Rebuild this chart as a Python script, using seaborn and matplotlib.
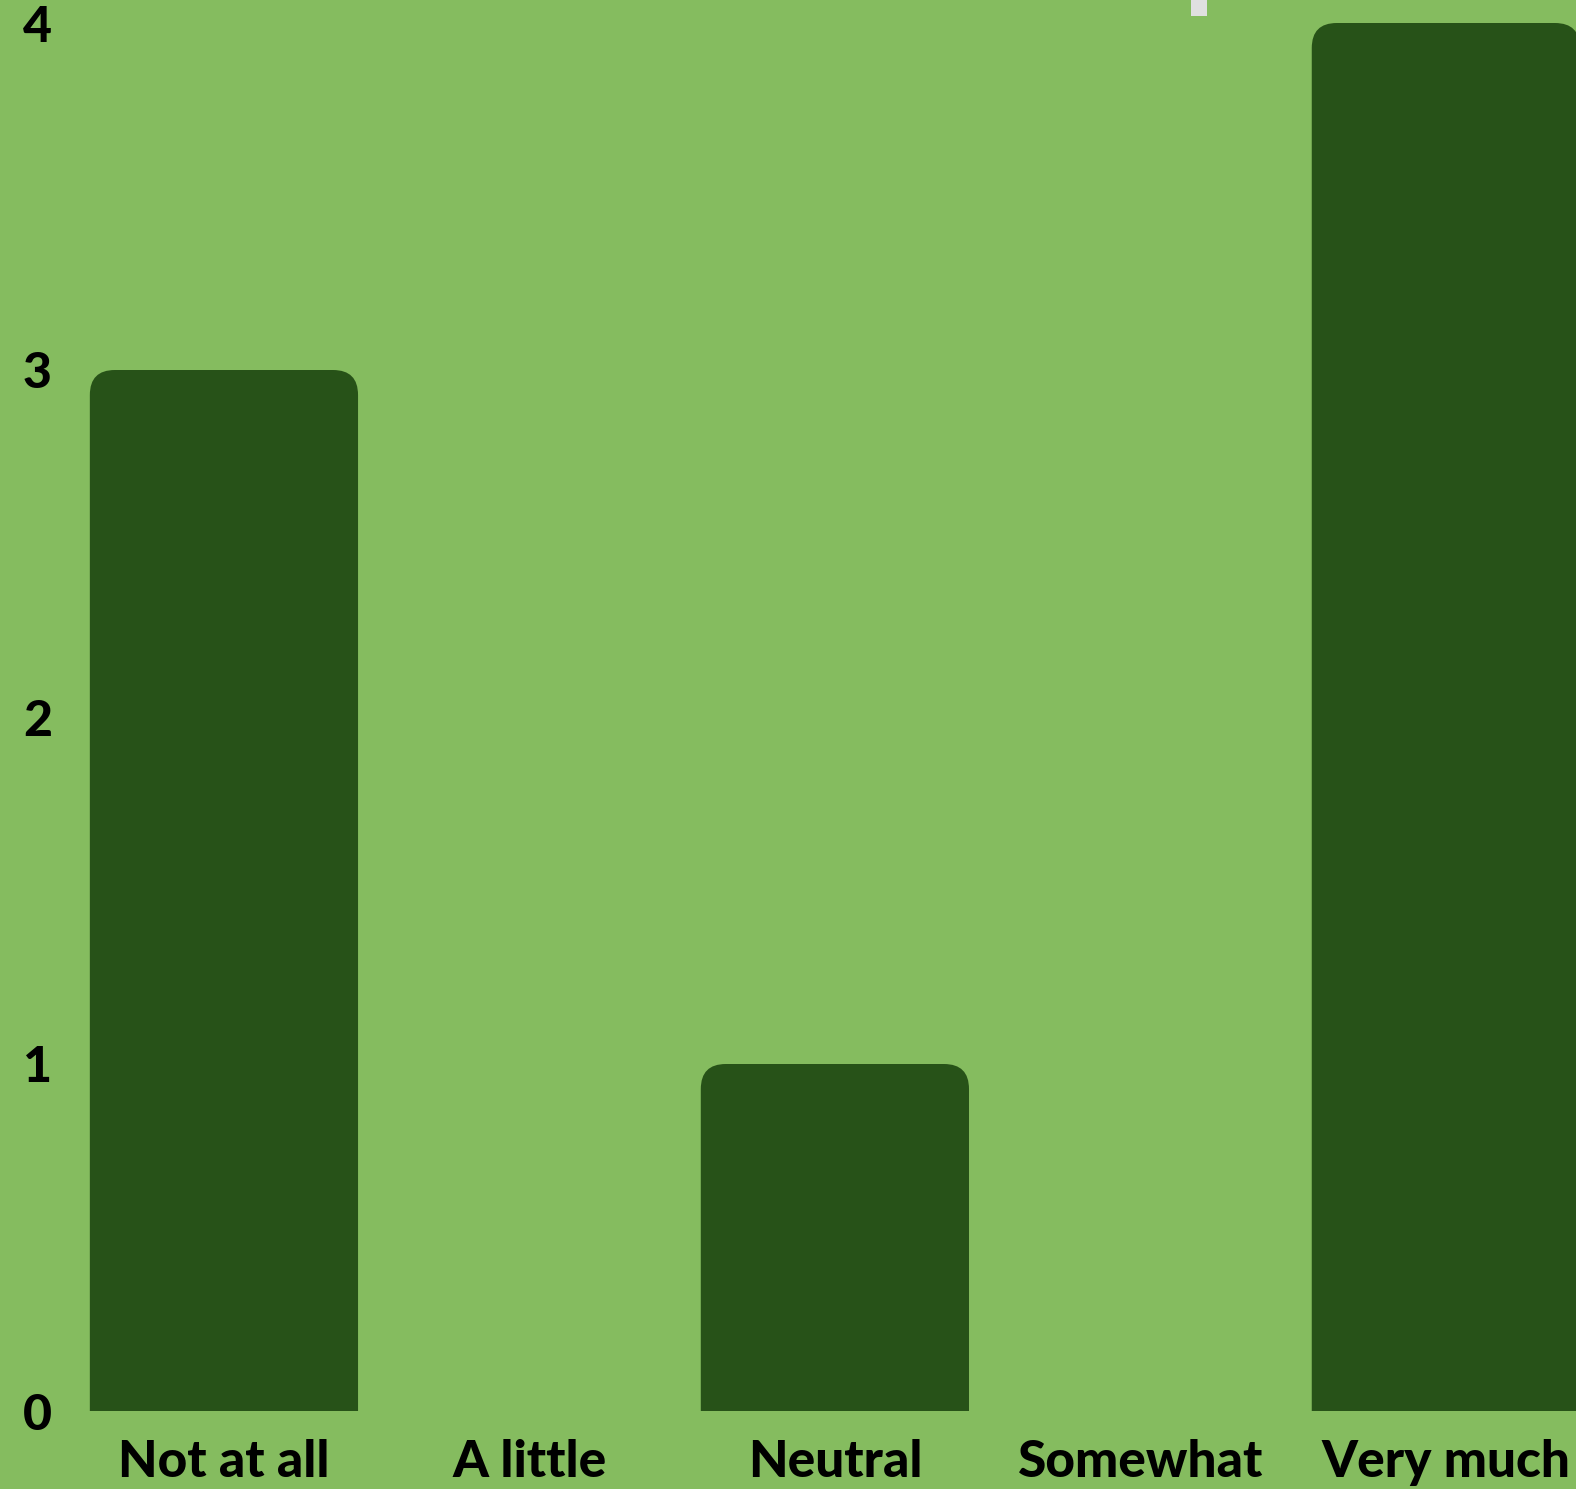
import matplotlib
matplotlib.use("Agg")
import matplotlib.pyplot as plt
import seaborn as sns
import pandas as pd
from matplotlib.patches import FancyBboxPatch, Rectangle

categories = ["Not at all", "A little", "Neutral", "Somewhat", "Very much"]
values = [3, 0, 1, 0, 4]
yticks = [0, 1, 2, 3, 4]

BG = "#85BC5F"
BAR = "#275218"

sns.set_theme(style="white")
plt.rcParams["font.family"] = ["Lato", "DejaVu Sans"]

W, H = 1576, 1489
fig = plt.figure(figsize=(W / 100, H / 100), dpi=100)
fig.patch.set_facecolor(BG)

left_px, right_px = 71.2, 1576.0
bottom_px, top_px = 1489 - 1411, 1489 - 23
ax = fig.add_axes([left_px / W, bottom_px / H, (right_px - left_px) / W, (top_px - bottom_px) / H])
ax.set_facecolor(BG)

df = pd.DataFrame({"category": categories, "value": values})
sns.barplot(data=df, x="category", y="value", color=BAR, width=0.878, ax=ax,
            saturation=1, order=categories)

ax.set_xlim(-0.5, 4.426)
ax.set_ylim(0, 4)

# rounded top corners (bottom corners hidden below the axis)
fig.canvas.draw()
x_per_px = (ax.get_xlim()[1] - ax.get_xlim()[0]) / ax.get_window_extent().width
y_per_px = (ax.get_ylim()[1] - ax.get_ylim()[0]) / ax.get_window_extent().height
r_px = 25
for p in list(ax.patches):
    x, y, w, h = p.get_x(), p.get_y(), p.get_width(), p.get_height()
    p.set_visible(False)
    if h <= 0:
        continue
    rx = r_px * x_per_px
    ry = r_px * y_per_px
    fb = FancyBboxPatch((x, y - 2 * ry), w, h + 2 * ry,
                        boxstyle=f"round,pad=0,rounding_size={rx}",
                        mutation_aspect=y_per_px / x_per_px,
                        facecolor=BAR, edgecolor="none", clip_on=True)
    ax.add_patch(fb)

for s in ax.spines.values():
    s.set_visible(False)
ax.set_xlabel("")
ax.set_ylabel("")
ax.set_yticks(yticks)
ax.set_yticklabels([str(t) for t in yticks], fontsize=36, fontweight="black", color="black")
ax.set_xticks(range(len(categories)))
ax.set_xticklabels(categories, fontsize=37, fontweight="black", color="black")
ax.tick_params(axis="y", length=0, pad=14)
ax.tick_params(axis="x", length=0, pad=20)
ax.grid(False)

# small light marker at top
fig.patches.append(Rectangle((1191 / W, 1 - 16 / H), 16 / W, 16 / H, transform=fig.transFigure,
                             facecolor="#E0E0E0", edgecolor="none"))

fig.savefig("out.png", dpi=100, facecolor=BG)
